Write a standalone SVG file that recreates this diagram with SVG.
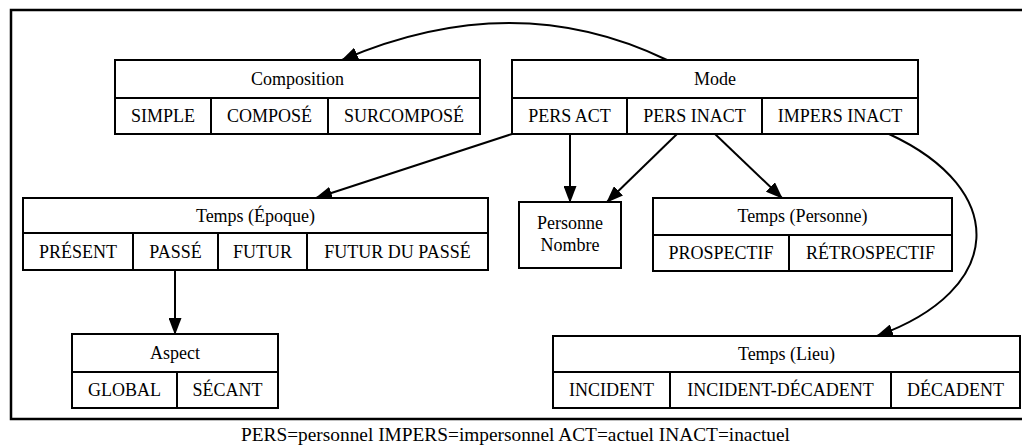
<svg xmlns="http://www.w3.org/2000/svg" width="1022" height="447" viewBox="0 0 1022 447">
  <style>
    .box { fill: #fff; stroke: #000; stroke-width: 2; }
    .sep { stroke: #000; stroke-width: 2; fill: none; }
    .t { font-family: "Liberation Serif", "Times New Roman", serif; font-size: 18px; fill: #000; text-anchor: middle; }
    .cap { font-family: "Liberation Serif", "Times New Roman", serif; font-size: 19px; fill: #000; text-anchor: middle; }
    .edge { stroke: #000; stroke-width: 2; fill: none; marker-end: url(#arrow); }
  </style>
  <defs>
    <marker id="arrow" markerUnits="userSpaceOnUse" markerWidth="17" markerHeight="13" refX="16" refY="6.5" orient="auto">
      <path d="M0,0 L17,6.5 L0,13 Z" fill="#000"/>
    </marker>
  </defs>
  <rect width="1022" height="447" fill="#fff"/>

  <!-- frame -->
  <path d="M1022,10 H11 V419 H1022" fill="none" stroke="#000" stroke-width="2.5"/>

  <!-- connectors -->
  <g id="connectors">
    <path class="edge" d="M667,60 Q514,-14 342,60"/>
    <path class="edge" d="M512,134 L316,198"/>
    <path class="edge" d="M570,134 L570,202"/>
    <path class="edge" d="M677,134 L607,202"/>
    <path class="edge" d="M715,134 L782,198"/>
    <path class="edge" d="M175,270 L175,334"/>
    <path class="edge" d="M889,134 C1010,190 1005,290 877,336"/>
  </g>

  <g id="composition">
    <rect class="box" x="115" y="60" width="365" height="74"/>
    <path class="sep" d="M115,98 H480 M211,98 V134 M328,98 V134"/>
    <text class="t" x="297.5" y="85">Composition</text>
    <text class="t" x="163" y="122">SIMPLE</text>
    <text class="t" x="269.5" y="122">COMPOSÉ</text>
    <text class="t" x="404" y="122">SURCOMPOSÉ</text>
  </g>

  <g id="mode">
    <rect class="box" x="512" y="60" width="406" height="74"/>
    <path class="sep" d="M512,98 H918 M627,98 V134 M762,98 V134"/>
    <text class="t" x="715" y="85">Mode</text>
    <text class="t" x="569.5" y="122">PERS ACT</text>
    <text class="t" x="694.5" y="122">PERS INACT</text>
    <text class="t" x="840" y="122">IMPERS INACT</text>
  </g>

  <g id="temps-epoque">
    <rect class="box" x="23" y="198" width="465" height="72"/>
    <path class="sep" d="M23,233 H488 M133,233 V270 M218,233 V270 M307,233 V270"/>
    <text class="t" x="255.5" y="222">Temps (Époque)</text>
    <text class="t" x="78" y="258">PRÉSENT</text>
    <text class="t" x="175.5" y="258">PASSÉ</text>
    <text class="t" x="262.5" y="258">FUTUR</text>
    <text class="t" x="397.5" y="258">FUTUR DU PASSÉ</text>
  </g>

  <g id="personne-nombre">
    <rect class="box" x="519" y="202" width="102" height="66"/>
    <text class="t" x="570" y="229">Personne</text>
    <text class="t" x="570" y="251">Nombre</text>
  </g>

  <g id="temps-personne">
    <rect class="box" x="653" y="198" width="299" height="73"/>
    <path class="sep" d="M653,235 H952 M789,235 V271"/>
    <text class="t" x="802.5" y="222">Temps (Personne)</text>
    <text class="t" x="721" y="259">PROSPECTIF</text>
    <text class="t" x="870.5" y="259">RÉTROSPECTIF</text>
  </g>

  <g id="aspect">
    <rect class="box" x="72" y="334" width="206" height="74"/>
    <path class="sep" d="M72,372 H278 M177,372 V408"/>
    <text class="t" x="175" y="359">Aspect</text>
    <text class="t" x="124.5" y="396">GLOBAL</text>
    <text class="t" x="227.5" y="396">SÉCANT</text>
  </g>

  <g id="temps-lieu">
    <rect class="box" x="553" y="336" width="467" height="72"/>
    <path class="sep" d="M553,372 H1020 M670,372 V408 M891,372 V408"/>
    <text class="t" x="786.5" y="360">Temps (Lieu)</text>
    <text class="t" x="611.5" y="396">INCIDENT</text>
    <text class="t" x="780.5" y="396">INCIDENT-DÉCADENT</text>
    <text class="t" x="955.5" y="396">DÉCADENT</text>
  </g>

  <text class="cap" x="515.5" y="441" textLength="549" lengthAdjust="spacingAndGlyphs">PERS=personnel IMPERS=impersonnel ACT=actuel INACT=inactuel</text>
</svg>
